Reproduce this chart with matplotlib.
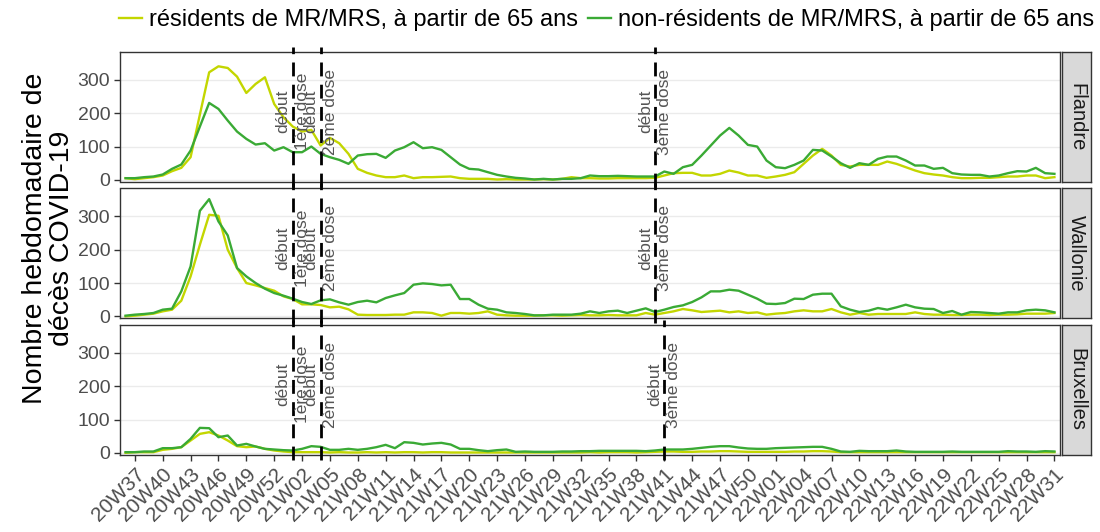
import numpy as np
import matplotlib
matplotlib.use("Agg")
import matplotlib.pyplot as plt

plt.rcParams['font.family'] = ['Liberation Sans', 'DejaVu Sans']

# semaines 2020W36 -> 2022W31
weeks = ([f"20W{w:02d}" for w in range(36, 54)]
         + [f"21W{w:02d}" for w in range(1, 53)]
         + [f"22W{w:02d}" for w in range(1, 32)])

regions = ["Flandre", "Wallonie", "Bruxelles"]

flandre_res = [5, 2, 5, 8, 13, 26, 36, 68, 196, 323, 341, 336, 310, 261, 288, 308, 228, 188, 160, 145,
               150, 103, 126, 110, 78, 33, 21, 13, 8, 8, 13, 5, 8, 8, 9, 10, 5, 3, 3, 3,
               1, 2, 1, 1, 1, 2, 1, 3, 8, 5, 5, 4, 4, 5, 5, 5, 5, 6, 13, 20,
               21, 21, 13, 13, 18, 28, 22, 13, 13, 6, 10, 15, 23, 48, 73, 93, 73, 45, 40, 45,
               45, 45, 55, 48, 38, 28, 20, 16, 13, 8, 5, 5, 6, 6, 8, 10, 10, 13, 13, 5, 8]
flandre_nonres = [5, 5, 8, 10, 16, 33, 46, 88, 160, 231, 213, 178, 145, 123, 106, 110, 88, 98, 83, 83,
                  100, 78, 68, 60, 48, 73, 77, 78, 66, 88, 98, 113, 95, 98, 90, 68, 46, 33, 31, 23,
                  15, 10, 6, 4, 1, 3, 1, 3, 3, 5, 13, 11, 11, 12, 11, 10, 10, 10, 25, 18,
                  38, 45, 73, 103, 133, 156, 133, 105, 100, 58, 38, 35, 45, 58, 90, 88, 70, 50, 36, 50,
                  45, 63, 70, 70, 58, 43, 43, 33, 36, 20, 16, 15, 15, 10, 13, 20, 26, 25, 36, 20, 18]

wallonie_res = [0, 2, 5, 8, 15, 20, 47, 120, 215, 305, 302, 200, 145, 100, 93, 85, 77, 60, 52, 36,
                36, 34, 27, 29, 21, 5, 4, 4, 4, 5, 5, 12, 12, 10, 2, 10, 10, 8, 10, 15,
                5, 3, 2, 2, 2, 3, 3, 2, 3, 4, 3, 3, 4, 3, 3, 3, 10, 5, 10, 15,
                22, 18, 13, 15, 17, 12, 15, 10, 12, 5, 8, 10, 15, 18, 15, 15, 22, 12, 5, 10,
                5, 7, 7, 7, 7, 12, 7, 5, 5, 4, 4, 5, 5, 4, 5, 5, 6, 8, 8, 8, 10]
wallonie_nonres = [2, 5, 7, 10, 20, 23, 75, 150, 317, 352, 285, 243, 145, 120, 100, 83, 70, 62, 53, 43,
                   37, 48, 51, 42, 35, 43, 47, 42, 55, 63, 70, 95, 99, 97, 93, 95, 52, 52, 35, 23,
                   20, 12, 10, 7, 3, 3, 5, 5, 5, 8, 15, 10, 15, 17, 10, 17, 24, 13, 20, 28,
                   33, 43, 57, 75, 75, 80, 77, 65, 53, 38, 37, 40, 53, 52, 65, 68, 68, 30, 20, 13,
                   17, 25, 20, 27, 35, 27, 23, 22, 10, 16, 5, 13, 12, 10, 8, 12, 12, 18, 20, 18, 12]

bruxelles_res = [0, 2, 2, 2, 9, 12, 17, 37, 57, 62, 52, 37, 20, 17, 19, 12, 7, 4, 2, 2,
                 2, 2, 1, 2, 1, 1, 2, 1, 2, 1, 2, 2, 1, 2, 2, 1, 1, 1, 1, 1,
                 1, 1, 1, 1, 1, 1, 1, 1, 1, 1, 2, 1, 2, 2, 2, 1, 2, 3, 4, 4,
                 3, 3, 4, 4, 5, 5, 4, 3, 3, 3, 3, 3, 4, 4, 5, 5, 4, 2, 2, 2,
                 2, 2, 2, 2, 2, 2, 2, 2, 2, 2, 2, 2, 2, 2, 2, 2, 2, 2, 2, 2, 2]
bruxelles_nonres = [2, 2, 4, 4, 14, 14, 17, 42, 75, 74, 47, 52, 22, 27, 19, 12, 10, 8, 7, 12,
                    20, 18, 9, 9, 12, 9, 12, 17, 24, 14, 32, 30, 25, 28, 30, 25, 12, 12, 8, 5,
                    8, 10, 3, 4, 3, 3, 3, 4, 4, 5, 5, 6, 6, 6, 6, 6, 5, 7, 10, 10,
                    10, 12, 15, 18, 20, 20, 16, 13, 12, 12, 14, 15, 16, 17, 18, 18, 12, 4, 3, 6,
                    5, 5, 5, 7, 4, 3, 3, 3, 3, 4, 3, 3, 3, 3, 3, 5, 4, 4, 3, 5, 4]

residents = [flandre_res, wallonie_res, bruxelles_res]
non_residents = [flandre_nonres, wallonie_nonres, bruxelles_nonres]

# debut des doses par region
dose_weeks = [["21W01", "21W04", "21W40"],
              ["21W01", "21W04", "21W40"],
              ["21W01", "21W04", "21W41"]]
dose_labels = ["début\n1ère dose", "début\n2ème dose", "début\n3ème dose"]

col_res = "#C3D600"
col_nonres = "#3AAA35"

W, H = 1100, 532
fig = plt.figure(figsize=(W / 100, H / 100), dpi=100)

x = np.arange(len(weeks))
left, right = 120, 1060
panel_tops = [52, 188.5, 325]
panel_h = 129.5

for k, reg in enumerate(regions):
    top = panel_tops[k]
    ax = fig.add_axes([left / W, 1 - (top + panel_h) / H, (right - left) / W, panel_h / H])
    ax.plot(x, residents[k], color=col_res, lw=1.7, label="résidents de MR/MRS, à partir de 65 ans")
    ax.plot(x, non_residents[k], color=col_nonres, lw=1.7, label="non-résidents de MR/MRS, à partir de 65 ans")
    for wk, lab in zip(dose_weeks[k], dose_labels):
        xi = weeks.index(wk)
        ax.axvline(xi, ymin=-0.04, ymax=1.04, color="black", lw=2, ls=(0, (5, 3)), clip_on=False, zorder=3)
        ax.text(xi, 205, lab, rotation=90, ha="center", va="center", multialignment="center",
                fontsize=12.5, color="#555555", linespacing=1.35, zorder=4)
    ax.set_xlim(-0.6, len(weeks) - 1 + 0.6)
    ax.set_ylim(-5, 384)
    ax.set_yticks([0, 100, 200, 300])
    ax.grid(axis="y", color="#EBEBEB", lw=1)
    ax.set_axisbelow(True)
    for s in ax.spines.values():
        s.set_color("#333333")
        s.set_linewidth(1)
    ax.tick_params(axis="both", colors="#333333", labelcolor="#4D4D4D", labelsize=14, length=4, width=1)
    ax.tick_params(axis="y", pad=3)
    ax.set_xticks(x[1::3])
    if k == 2:
        ax.set_xticklabels(weeks[1::3], rotation=45, ha="right", rotation_mode="anchor", fontsize=15)
    else:
        ax.set_xticklabels([])
        ax.tick_params(axis="x", length=0)
    if k == 0:
        handles, labels = ax.get_legend_handles_labels()

    # bandeau de facette a droite
    sax = fig.add_axes([1062 / W, 1 - (top + panel_h) / H, 29 / W, panel_h / H])
    sax.set_facecolor("#D9D9D9")
    sax.set_xticks([])
    sax.set_yticks([])
    for s in sax.spines.values():
        s.set_color("#333333")
        s.set_linewidth(1)
    sax.text(0.5, 0.5, reg, rotation=270, ha="center", va="center", fontsize=14.5,
             color="#1A1A1A", transform=sax.transAxes)

fig.legend(handles, labels, loc="center", bbox_to_anchor=(0.5514, 0.962), ncol=2, frameon=False,
           fontsize=17, handlelength=0.95, handletextpad=0.3, columnspacing=0.45)

fig.text(49 / W, 1 - 238 / H, "Nombre hebdomadaire de\ndécès COVID-19", rotation=90,
         ha="center", va="center", multialignment="center", fontsize=20.5, linespacing=1.05)

fig.savefig("out.png", dpi=100)
